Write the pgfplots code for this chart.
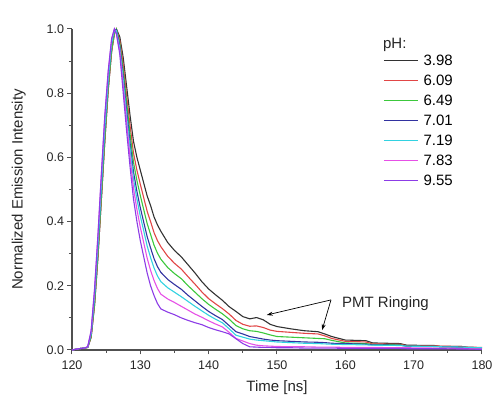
\documentclass[border=0pt]{standalone}
\usepackage{pgfplots}
\pgfplotsset{compat=1.18}
\usepackage{pgfplotstable}
\usepackage{fontspec}
\setmainfont{Liberation Sans}
\usetikzlibrary{arrows.meta}
\definecolor{c1}{RGB}{50,50,50}
\definecolor{c2}{RGB}{225,70,70}
\definecolor{c3}{RGB}{60,200,60}
\definecolor{c4}{RGB}{50,50,160}
\definecolor{c5}{RGB}{50,210,225}
\definecolor{c6}{RGB}{230,80,230}
\definecolor{c7}{RGB}{140,60,230}
\definecolor{axgray}{RGB}{80,80,80}
\pgfplotstableread{
t     B     R     G     Bl    C     M     P
120   0     0     0     0     0     0     0
121   .004  .004  .004  .004  .004  .004  .004
121.8 .006  .006  .006  .006  .006  .006  .006
122.3 .008  .008  .008  .009  .009  .010  .010
122.8 .04   .04   .042  .05   .05   .058  .06
123.3 .14   .14   .145  .165  .165  .185  .19
123.8 .29   .29   .30   .325  .325  .355  .36
124.3 .47   .47   .48   .51   .51   .545  .55
124.8 .65   .65   .66   .69   .69   .725  .73
125.3 .81   .81   .82   .84   .84   .865  .87
125.8 .93   .93   .935  .955  .955  .968  .97
126.2 .985  .985  .988  .996  .996  1.0   1.0
126.5 1.0   1.0   1.0   .998  .995  .985  .985
127.0 .975  .964  .955  .946  .939  .930  .92
127.5 .91   .888  .870  .852  .839  .821  .80
128.0 .82   .792  .770  .746  .729  .707  .68
128.5 .73   .698  .672  .645  .626  .600  .57
129.0 .65   .614  .585  .555  .533  .504  .47
129.5 .60   .56   .528  .494  .47   .438  .40
130.0 .56   .516  .481  .443  .417  .382  .34
130.5 .52   .474  .437  .398  .371  .334  .29
131.0 .48   .432  .394  .353  .324  .286  .24
131.5 .45   .40   .36   .318  .288  .248  .20
132.0 .415  .366  .327  .285  .256  .217  .17
132.5 .39   .341  .302  .26   .231  .192  .145
133.0 .37   .322  .283  .242  .213  .174  .128
134.0 .335  .292  .257  .22   .194  .159  .118
135.0 .31   .27   .238  .204  .18   .148  .11
136.0 .29   .252  .222  .189  .166  .136  .10
137.0 .265  .228  .200  .170  .151  .124  .092
138.0 .24   .205  .180  .153  .136  .112  .085
139.0 .213  .181  .160  .136  .122  .102  .079
140.0 .19   .160  .142  .120  .108  .091  .07
141.0 .172  .144  .127  .107  .096  .081  .063
142.0 .155  .129  .113  .095  .085  .072  .057
143.0 .135  .112  .096  .076  .066  .055  .05
144.0 .12   .092  .076  .057  .046  .036  .035
145.0 .104  .08   .066  .05   .04   .028  .02
146.0 .097  .074  .06   .042  .034  .02   .01
147.0 .101  .075  .058  .038  .031  .015  .009
148.0 .094  .07   .053  .034  .029  .013  .008
149.0 .08   .062  .047  .031  .027  .012  .008
150.0 .073  .058  .042  .029  .025  .011  .007
152.0 .066  .055  .04   .027  .023  .01   .007
154.0 .06   .052  .038  .025  .021  .01   .006
156.0 .057  .05   .036  .024  .02   .009  .006
157.0 .05   .044  .035  .023  .019  .009  .006
158.0 .042  .036  .03   .021  .018  .009  .006
160.0 .031  .027  .022  .02   .017  .008  .005
163.0 .029  .025  .02   .018  .016  .008  .005
164.0 .022  .019  .017  .016  .015  .008  .005
168.0 .02   .018  .016  .015  .014  .007  .005
169.0 .015  .013  .012  .012  .012  .007  .004
173.0 .014  .013  .011  .011  .011  .006  .004
174.0 .011  .012  .01   .01   .01   .006  .004
177.0 .011  .011  .009  .009  .009  .005  .003
178.0 .007  .009  .008  .008  .008  .004  .003
180.0 .007  .008  .007  .007  .007  .003  .002
}\data
\begin{document}
\begin{tikzpicture}
\useasboundingbox (-72pt,-48pt) rectangle (421pt,350pt);
\begin{axis}[
  at={(0,0)}, anchor=south west,
  scale only axis, width=410pt, height=321pt,
  xmin=120, xmax=180, ymin=0, ymax=1.0,
  axis lines=left,
  axis line style={-, axgray, line width=1.1pt},
  every outer x axis line/.append style={-},
  every outer y axis line/.append style={-},
  every inner x axis line/.append style={-},
  every inner y axis line/.append style={-},
  tick align=outside,
  major tick length=4.5pt, minor tick length=3pt,
  tick style={axgray, line width=1pt},
  xtick={120,130,...,180}, minor x tick num=1,
  ytick={0,0.2,...,1.0}, minor y tick num=1,
  yticklabel style={/pgf/number format/.cd, fixed, fixed zerofill, precision=1},
  xticklabel style={yshift=-3pt},
  /pgf/number format/assume math mode=true,
  ticklabel style={font=\fontsize{12.5}{13}\selectfont, black!85},
  xlabel={Time [ns]}, ylabel={Normalized Emission Intensity},
  label style={font=\fontsize{15}{16}\selectfont, black!85},
  x label style={at={(axis description cs:0.5,-0.118)}, anchor=center},
  y label style={at={(axis description cs:-0.130,0.5)}, anchor=center, rotate=0},
  clip=false,
  legend style={draw=none, fill=none, at={(axis description cs:0.7585,0.919)}, anchor=north west,
    font=\fontsize{15}{16}\selectfont, inner sep=0pt, outer sep=0pt, row sep=9pt,
    nodes={inner sep=0pt, text height=11pt, text depth=0pt, anchor=west}},
  legend cell align=left,
  /tikz/every odd column/.append style={column sep=5pt},
  legend image code/.code={\draw[#1, line width=1.6pt] (0,0) -- (34pt,0);},
  every axis plot/.append style={line width=1.1pt},
]
\addplot[c1] table[x=t,y=B]{\data};
\addplot[c2] table[x=t,y=R]{\data};
\addplot[c3] table[x=t,y=G]{\data};
\addplot[c4] table[x=t,y=Bl]{\data};
\addplot[c5] table[x=t,y=C]{\data};
\addplot[c6] table[x=t,y=M]{\data};
\addplot[c7] table[x=t,y=P]{\data};
\legend{3.98,6.09,6.49,7.01,7.19,7.83,9.55}
\node[anchor=west, inner sep=0pt, font=\fontsize{15}{16}\selectfont, black!85] at (axis cs:165.5,0.95) {pH:};
\node[anchor=west, inner sep=0pt, font=\fontsize{15}{16}\selectfont, black!85] at (axis cs:159.5,0.146) {PMT Ringing};
\draw[-{Stealth[length=6pt,width=4pt]}, line width=0.7pt] (axis cs:157.9,0.156) -- (axis cs:148.5,0.109);
\draw[-{Stealth[length=6pt,width=4pt]}, line width=0.7pt] (axis cs:157.9,0.156) -- (axis cs:156.6,0.062);
\end{axis}
\end{tikzpicture}
\end{document}
